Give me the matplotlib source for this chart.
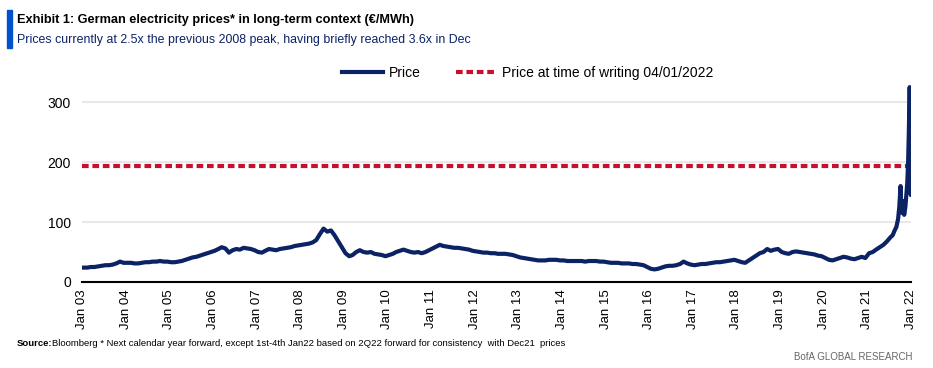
import matplotlib
matplotlib.use("Agg")
import matplotlib.pyplot as plt
from matplotlib.patches import Rectangle
import pandas as pd

# === Dados ===
anos = list(range(2003, 2021))
mensal = {
    2003: [24, 24, 25, 25, 26, 27, 28, 28, 29, 31, 34, 32],
    2004: [32, 32, 31, 31, 32, 33, 33, 34, 34, 35, 34, 34],
    2005: [33, 33, 34, 35, 37, 39, 41, 42, 44, 46, 48, 50],
    2006: [52, 55, 58, 56, 49, 53, 55, 54, 57, 56, 55, 53],
    2007: [50, 49, 52, 55, 54, 53, 55, 56, 57, 58, 60, 61],
    2008: [62, 63, 64, 66, 70, 80, 89, 84, 86, 78, 68, 58],
    2009: [48, 43, 45, 50, 53, 50, 49, 50, 47, 46, 45, 43],
    2010: [45, 47, 50, 52, 54, 52, 50, 49, 50, 48, 50, 53],
    2011: [56, 59, 62, 60, 59, 58, 57, 57, 56, 55, 54, 52],
    2012: [51, 50, 49, 49, 48, 48, 47, 47, 47, 46, 45, 43],
    2013: [41, 40, 39, 38, 37, 36, 36, 36, 37, 37, 37, 36],
    2014: [36, 35, 35, 35, 35, 35, 34, 35, 35, 35, 34, 34],
    2015: [33, 32, 32, 32, 31, 31, 31, 30, 30, 29, 28, 25],
    2016: [22, 21, 22, 24, 26, 27, 27, 28, 30, 34, 31, 29],
    2017: [28, 29, 30, 30, 31, 32, 33, 33, 34, 35, 36, 37],
    2018: [35, 33, 32, 36, 40, 44, 48, 50, 55, 52, 54, 55],
    2019: [50, 48, 47, 50, 51, 50, 49, 48, 47, 46, 44, 43],
    2020: [40, 37, 36, 38, 40, 42, 41, 39, 38, 40, 42, 40],
}
datas_2021 = ["2021-01-15", "2021-02-15", "2021-03-15", "2021-04-15", "2021-05-15",
              "2021-06-15", "2021-07-15", "2021-08-01", "2021-08-15", "2021-09-01",
              "2021-09-15", "2021-09-25", "2021-10-06", "2021-10-12", "2021-10-20",
              "2021-10-28", "2021-11-05", "2021-11-15", "2021-11-25", "2021-12-01",
              "2021-12-08", "2021-12-14", "2021-12-21", "2021-12-23", "2021-12-28",
              "2021-12-31", "2022-01-03", "2022-01-04"]
valores_2021 = [48, 50, 54, 58, 62, 68, 75, 78, 85, 92, 105, 125, 160, 120, 115,
                135, 112, 125, 150, 165, 200, 250, 325, 300, 160, 145, 200, 194]
preco_atual = 194
ticks_anos = list(range(2003, 2023))
rotulos_x = [f"Jan {a % 100:02d}" for a in ticks_anos]
y_ticks = [0, 100, 200, 300]

datas = []
valores = []
for a in anos:
    for m, v in enumerate(mensal[a]):
        datas.append(pd.Timestamp(a, m + 1, 15))
        valores.append(v)
datas += [pd.Timestamp(d) for d in datas_2021]
valores += valores_2021
datas[0] = pd.Timestamp(2003, 1, 2)

NAVY = "#0B2265"
RED = "#C8102E"
plt.rcParams['font.family'] = ['Liberation Sans', 'DejaVu Sans']

fig = plt.figure(figsize=(9.33, 3.68), dpi=100)
ax = fig.add_axes([0.0879, 0.2337, 0.8885, 0.554])

ax.plot(datas, valores, color=NAVY, lw=3, solid_joinstyle='round', label="Price", zorder=3)
ax.axhline(preco_atual, color=RED, lw=3, dashes=(1.6, 0.9),
           label="Price at time of writing 04/01/2022", zorder=2)

ax.set_xlim(pd.Timestamp(2003, 1, 1), pd.Timestamp(2022, 1, 1))
ax.set_ylim(0, 340)
ax.set_yticks(y_ticks)
ax.set_xticks([pd.Timestamp(a, 1, 1) for a in ticks_anos])
ax.set_xticklabels(rotulos_x, rotation=90, fontsize=9.5)
ax.tick_params(axis='y', length=0, labelsize=10, pad=8)
ax.tick_params(axis='x', length=0, pad=5)
for v in y_ticks[1:]:
    ax.axhline(v, color="#E8E8E8", lw=1.5, zorder=1)
for s in ["top", "right", "left"]:
    ax.spines[s].set_visible(False)
ax.spines["bottom"].set_linewidth(1.5)
ax.spines["bottom"].set_color("black")

# legenda acima do gráfico
ax.legend(loc="center", bbox_to_anchor=(0.538, 1.025), ncol=2, frameon=False,
          fontsize=10, handlelength=2.9, handletextpad=0.45, columnspacing=2.5,
          borderaxespad=0, borderpad=0)

# === Títulos ===
fig.patches.append(Rectangle((7 / 933, 1 - 48 / 368), 5 / 933, 38 / 368,
                             transform=fig.transFigure, color="#0052CC"))
fig.text(17 / 933, 1 - 20 / 368, "Exhibit 1: German electricity prices* in long-term context (€/MWh)",
         fontsize=9.2, fontweight='bold', va='center', color="black")
fig.text(17 / 933, 1 - 40 / 368,
         "Prices currently at 2.5x the previous 2008 peak, having briefly reached 3.6x in Dec",
         fontsize=8.9, va='center', color=NAVY)

fig.text(17 / 933, 1 - 343 / 368, "Source:", fontsize=6.8, fontweight='bold', va='center')
fig.text(52 / 933, 1 - 343 / 368,
         "Bloomberg * Next calendar year forward, except 1st-4th Jan22 based on 2Q22 forward for consistency  with Dec21  prices",
         fontsize=6.8, va='center')
fig.text(913 / 933, 1 - 357 / 368, "BofA GLOBAL RESEARCH", fontsize=7, va='center',
         ha='right', color="#666666")

fig.savefig("out.png", dpi=100)
